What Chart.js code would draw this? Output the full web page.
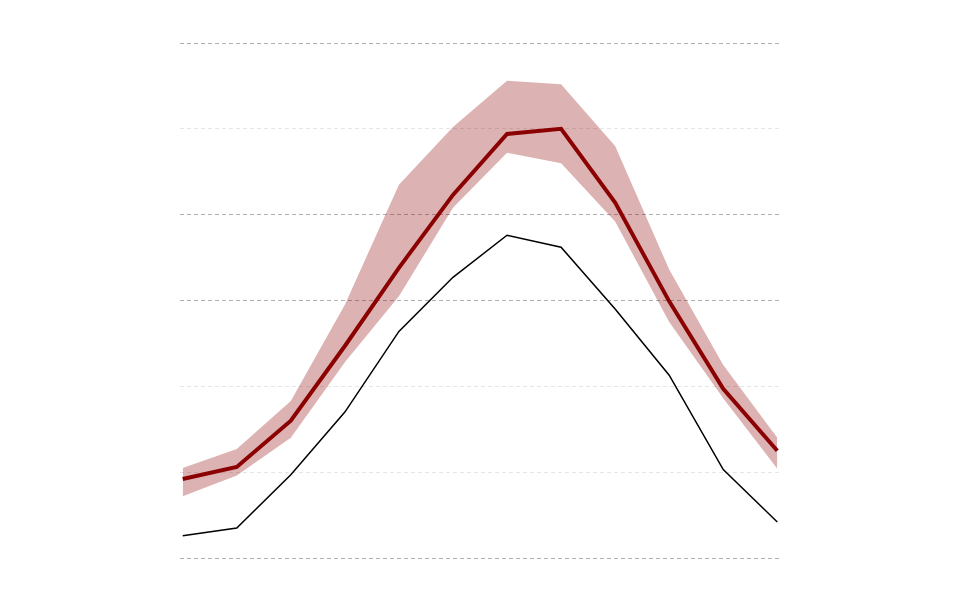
<!DOCTYPE html>
<html>
<head>
<meta charset="utf-8">
<script src="https://cdn.jsdelivr.net/npm/chart.js@4/dist/chart.umd.min.js"></script>
<style>
    html, body { margin: 0; padding: 0; background: #ffffff; }
    #wrap { width: 960px; height: 600px; }
</style>
</head>
<body>
<div id="wrap"><canvas id="chart"></canvas></div>
<script>
// Chart values (12 points)
const months = [0, 1, 2, 3, 4, 5, 6, 7, 8, 9, 10, 11];
const baseline = [0.26, 0.35, 0.97, 1.70, 2.64, 3.27, 3.76, 3.62, 2.90, 2.13, 1.03, 0.42];
const meanLine = [0.92, 1.06, 1.60, 2.47, 3.38, 4.23, 4.94, 5.00, 4.14, 2.99, 1.97, 1.25];
const bandUpper = [1.05, 1.27, 1.83, 2.95, 4.35, 5.02, 5.56, 5.52, 4.80, 3.36, 2.25, 1.40];
const bandLower = [0.72, 0.96, 1.40, 2.28, 3.05, 4.08, 4.72, 4.60, 3.92, 2.75, 1.86, 1.04];
const yTicks = [0, 1, 2, 3, 4, 5, 6];

// which horizontal grid lines are drawn darker (bottom to top)
const darkGrid = [true, false, false, true, true, false, true];

function toPoints(values) {
    return months.map((m, i) => ({ x: m, y: values[i] }));
}

document.addEventListener('DOMContentLoaded', () => {
    const ctx = document.getElementById('chart').getContext('2d');
    new Chart(ctx, {
        type: 'line',
        data: {
            datasets: [
                {
                    label: 'Band upper',
                    data: toPoints(bandUpper),
                    borderWidth: 0,
                    borderColor: 'rgba(0,0,0,0)',
                    backgroundColor: 'rgba(139,0,0,0.3)',
                    pointRadius: 0,
                    fill: '+1',
                    order: 3,
                },
                {
                    label: 'Band lower',
                    data: toPoints(bandLower),
                    borderWidth: 0,
                    borderColor: 'rgba(0,0,0,0)',
                    pointRadius: 0,
                    fill: false,
                    order: 3,
                },
                {
                    label: 'Mean',
                    data: toPoints(meanLine),
                    borderColor: '#8b0000',
                    borderWidth: 4,
                    pointRadius: 0,
                    fill: false,
                    order: 1,
                },
                {
                    label: 'Baseline',
                    data: toPoints(baseline),
                    borderColor: '#000000',
                    borderWidth: 1.5,
                    pointRadius: 0,
                    fill: false,
                    order: 2,
                },
            ],
        },
        options: {
            responsive: true,
            maintainAspectRatio: false,
            animation: false,
            layout: { padding: { left: 180, right: 180, top: 43, bottom: 42 } },
            plugins: {
                legend: { display: false },
                tooltip: { enabled: false },
            },
            scales: {
                x: {
                    type: 'linear',
                    min: -0.05,
                    max: 11.05,
                    display: false,
                },
                y: {
                    min: yTicks[0],
                    max: yTicks[yTicks.length - 1],
                    afterBuildTicks: (axis) => {
                        axis.ticks = yTicks.map(v => ({ value: v }));
                    },
                    ticks: { display: false },
                    border: { display: false, dash: [4, 3] },
                    grid: {
                        drawTicks: false,
                        lineWidth: 1,
                        color: (c) => darkGrid[c.index] ? '#b0b0b0' : '#e6e6e6',
                    },
                    afterFit: (axis) => { axis.width = 0; },
                },
            },
        },
    });
});
</script>
</body>
</html>
